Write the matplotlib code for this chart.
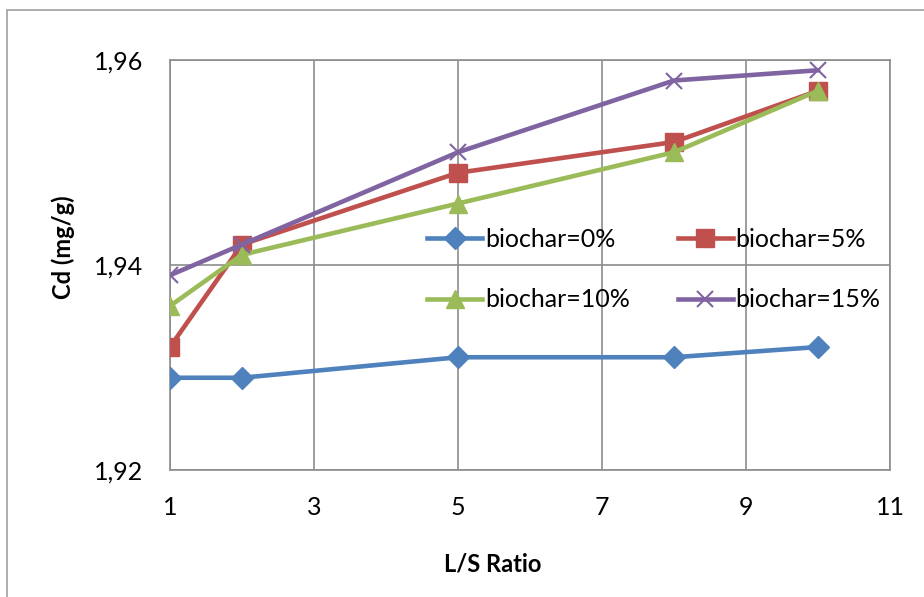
import matplotlib
matplotlib.use("Agg")
import matplotlib.pyplot as plt
from matplotlib.patches import Rectangle
from matplotlib.ticker import FuncFormatter

x_ratio = [1, 2, 5, 8, 10]
cd_0 = [1.929, 1.929, 1.931, 1.931, 1.932]
cd_5 = [1.932, 1.942, 1.949, 1.952, 1.957]
cd_10 = [1.936, 1.941, 1.946, 1.951, 1.957]
cd_15 = [1.939, 1.942, 1.951, 1.958, 1.959]
labels = ["biochar=0%", "biochar=5%", "biochar=10%", "biochar=15%"]
x_ticks = [1, 3, 5, 7, 9, 11]
y_ticks = [1.92, 1.94, 1.96]

plt.rcParams['font.family'] = ['Lato', 'DejaVu Sans']

fig = plt.figure(figsize=(9.24, 5.97), dpi=100)
W, H = 924, 597
ax = fig.add_axes([170 / W, 1 - 470 / H, 720 / W, 410 / H])

# outer chart border
fig.patches.append(Rectangle((7 / W, -0.1), 1.2, 1 - 10 / H + 0.1, transform=fig.transFigure,
                             fill=False, edgecolor='#a0a0a0', linewidth=1.2))

series = [cd_0, cd_5, cd_10, cd_15]
colors = ['#4F81BD', '#C0504D', '#9BBB59', '#8064A2']
markers = ['D', 's', '^', 'x']
msizes = [11.5, 13, 13, 12]
handles = []
for vals, c, m, ms, lab in zip(series, colors, markers, msizes, labels):
    kw = dict(color=c, linewidth=3.3, marker=m, markersize=ms, label=lab, zorder=3)
    if m == 'x':
        kw.update(markeredgewidth=1.5)
    else:
        kw.update(markeredgecolor=c)
    h, = ax.plot(x_ratio, vals, **kw)
    handles.append(h)

ax.set_xlim(1, 11)
ax.set_ylim(1.92, 1.96)
ax.set_xticks(x_ticks)
ax.set_yticks(y_ticks)
ax.yaxis.set_major_formatter(FuncFormatter(lambda v, p: f"{v:.2f}".replace('.', ',')))
ax.grid(True, color='#8c8c8c', linewidth=1.2)
ax.set_axisbelow(True)
for s in ax.spines.values():
    s.set_color('#8c8c8c')
    s.set_linewidth(1.2)
ax.tick_params(length=0, labelsize=18)
ax.tick_params(axis='y', pad=19)
ax.tick_params(axis='x', pad=19)

ax.set_xlabel("L/S Ratio", fontsize=17, fontweight='bold')
ax.set_ylabel("Cd (mg/g)", fontsize=17, fontweight='bold')
ax.xaxis.set_label_coords((493 - 170) / 720, (470 - 553) / 410)
ax.yaxis.set_label_coords((75 - 170) / 720, (470 - 247) / 410)

order = [0, 2, 1, 3]
ax.legend([handles[i] for i in order], [labels[i] for i in order],
          ncol=2, loc='center', bbox_to_anchor=((654 - 170) / 720, (470 - 269.5) / 410),
          frameon=False, fontsize=18, handlelength=2.2, columnspacing=1.9,
          labelspacing=1.5, handletextpad=0.12, borderpad=0)

fig.savefig("out.png", dpi=100)
